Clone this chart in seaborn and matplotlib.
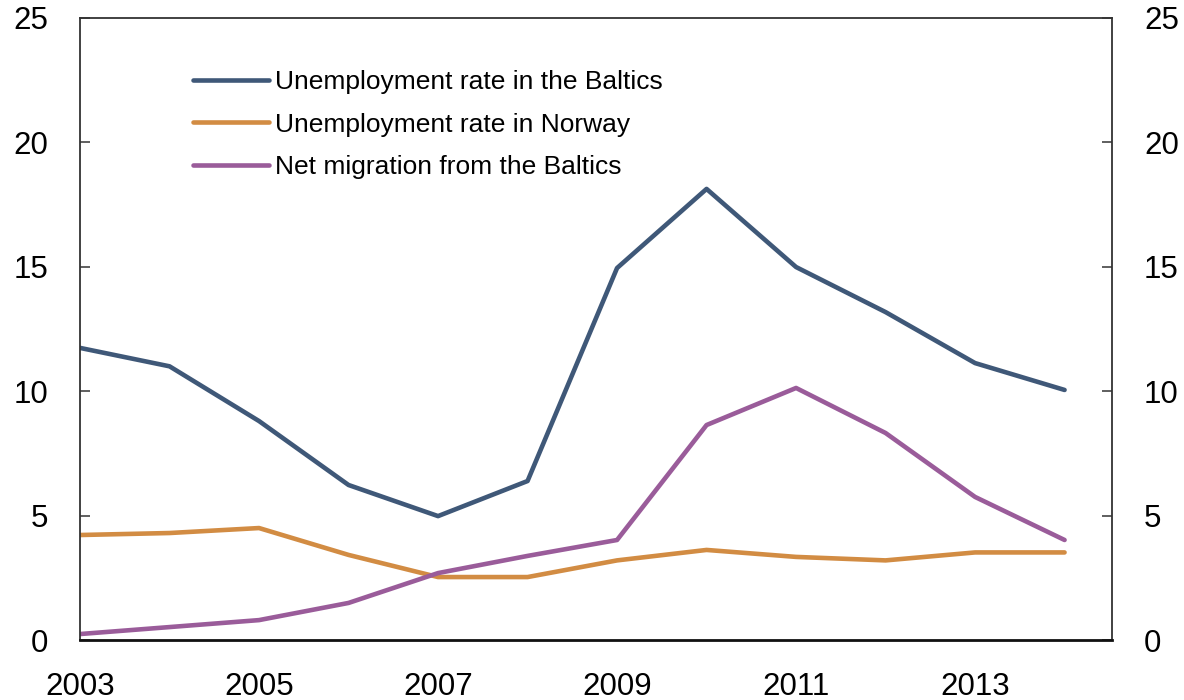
import matplotlib
matplotlib.use("Agg")
import matplotlib.pyplot as plt
import seaborn as sns
import pandas as pd

years = list(range(2003, 2015))
baltics_unemployment = [11.74, 11.0, 8.8, 6.23, 4.98, 6.39, 14.95, 18.13, 14.99, 13.18, 11.13, 10.05]
norway_unemployment = [4.22, 4.3, 4.5, 3.42, 2.53, 2.53, 3.2, 3.62, 3.34, 3.2, 3.52, 3.52]
net_migration = [0.24, 0.52, 0.8, 1.49, 2.69, 3.38, 4.02, 8.64, 10.13, 8.32, 5.75, 4.02]

series_names = [
    "Unemployment rate in the Baltics",
    "Unemployment rate in Norway",
    "Net migration from the Baltics",
]
colors = ["#3f5878", "#d28c43", "#9a5c9a"]
y_ticks = [0, 5, 10, 15, 20, 25]
x_ticks = [2003, 2005, 2007, 2009, 2011, 2013]

df = pd.DataFrame({
    "year": years * 3,
    "value": baltics_unemployment + norway_unemployment + net_migration,
    "series": [series_names[0]] * 12 + [series_names[1]] * 12 + [series_names[2]] * 12,
})

sns.set_theme(style="white")
plt.rcParams["font.family"] = ["Liberation Sans", "DejaVu Sans"]
plt.rcParams["text.color"] = "black"

fig = plt.figure(figsize=(11.84, 7.0), dpi=100)
ax = fig.add_axes([0.0676, 0.0857, 0.8716, 0.8886])

sns.lineplot(data=df, x="year", y="value", hue="series", hue_order=series_names,
             palette=colors, linewidth=3.3, ax=ax)

ax.set_xlim(2003, 2014.53)
ax.set_ylim(0, 25)
ax.set_xticks(x_ticks)
ax.set_xticklabels([str(x) for x in x_ticks])
ax.set_yticks(y_ticks)
ax.set_yticklabels([str(y) for y in y_ticks])
ax.set_xlabel("")
ax.set_ylabel("")

for side in ["left", "right", "top", "bottom"]:
    ax.spines[side].set_visible(True)
    ax.spines[side].set_color("#333333")
    ax.spines[side].set_linewidth(1.3)
ax.spines["bottom"].set_color("#111111")
ax.spines["bottom"].set_linewidth(2.0)

ax.tick_params(axis="both", direction="in", length=7, width=1.2, colors="#444444",
               labelsize=22.5, labelcolor="black")
ax.tick_params(axis="x", pad=23)
ax.tick_params(axis="y", pad=23, left=True, right=True, labelleft=True, labelright=True)

leg = ax.legend(loc="upper left", bbox_to_anchor=(0.099, 0.933), frameon=False,
                fontsize=19, handlelength=2.9, handletextpad=0.23, labelspacing=0.70,
                borderaxespad=0)
for line in leg.get_lines():
    line.set_linewidth(3.3)
for text in leg.get_texts():
    text.set_color("black")

fig.savefig("out.png", dpi=100)
